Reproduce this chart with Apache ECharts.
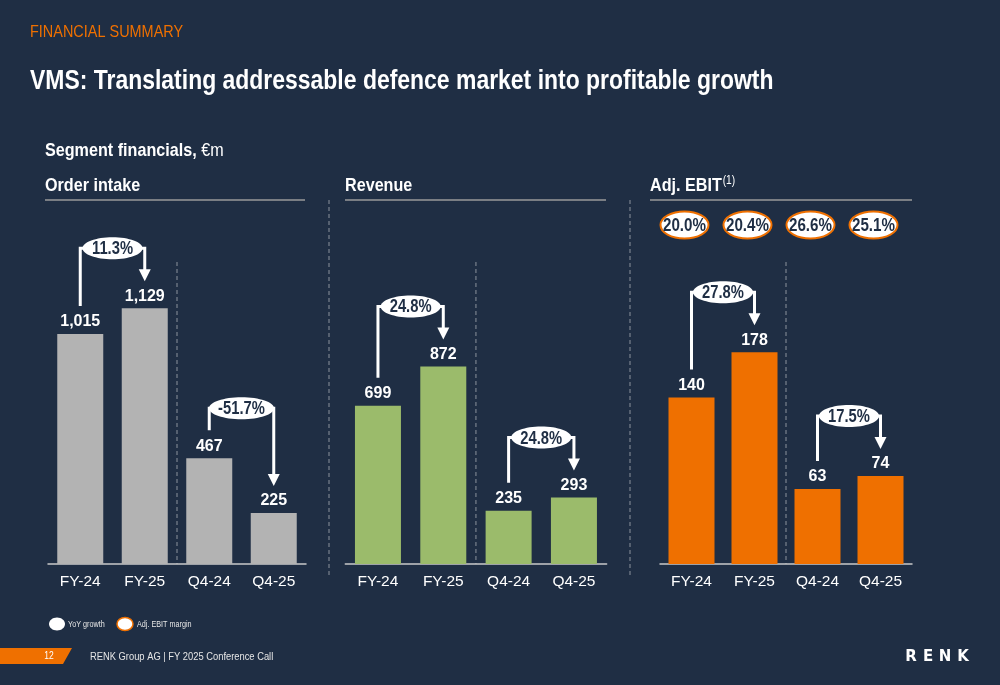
<!DOCTYPE html>
<html>
<head>
<meta charset="utf-8">
<title>VMS segment financials</title>
<script src="https://cdn.jsdelivr.net/npm/echarts@6.0.0/dist/echarts.min.js"></script>
<style>
  html, body { margin: 0; padding: 0; background: #1f2e44; }
  #main { width: 1000px; height: 685px; }
</style>
</head>
<body>
<div id="main"></div>
<script>
// data
var categories = ['FY-24', 'FY-25', 'Q4-24', 'Q4-25'];
var orderIntake = [1015, 1129, 467, 225];
var revenue = [699, 872, 235, 293];
var adjEbit = [140, 178, 63, 74];
var orderGrowth = ['11.3%', '-51.7%'];
var revenueGrowth = ['24.8%', '24.8%'];
var ebitGrowth = ['27.8%', '17.5%'];
var ebitMargin = ['20.0%', '20.4%', '26.6%', '25.1%'];
var growthPairs = [[0, 1], [2, 3]];

var NAVY = '#1f2e44';
var ORANGE = '#ef7000';
var FONT = '"Liberation Sans", Arial, sans-serif';
var NARROW = 0.85; // slide font is a condensed Arial, squeeze the text to match

var chart = echarts.init(document.getElementById('main'));

function xAxis(grid) {
  return {
    type: 'category', gridIndex: grid, data: categories,
    axisTick: { show: false },
    axisLine: { lineStyle: { color: '#c9c9c9', width: 1.5 } },
    axisLabel: { color: '#ffffff', fontSize: 15.5, fontFamily: FONT, margin: 10 }
  };
}

function yAxis(grid, max) {
  return { type: 'value', gridIndex: grid, min: 0, max: max, show: false };
}

function barSeries(grid, values, color) {
  return {
    type: 'bar', xAxisIndex: grid, yAxisIndex: grid,
    data: values, barWidth: 46,
    itemStyle: { color: color },
    label: {
      show: true, position: 'top', distance: 4,
      color: '#ffffff', fontWeight: 'bold', fontSize: 16, fontFamily: FONT,
      formatter: function (p) { return p.value.toLocaleString('en-US'); }
    }
  };
}

function bubbleText(text, x, y, size) {
  return { type: 'text', x: x, y: y, scaleX: 0.82,
    style: { text: text, x: 0, y: 0, align: 'center', verticalAlign: 'middle',
      fontSize: size, fontWeight: 'bold', fontFamily: FONT, fill: NAVY } };
}

// YoY bracket arrow with the growth bubble
function bracketSeries(grid, values, labels) {
  return {
    type: 'custom', xAxisIndex: grid, yAxisIndex: grid, z: 5,
    data: growthPairs.map(function (p) { return [p[0], 0, p[1], values[p[0]], values[p[1]]]; }),
    renderItem: function (params, api) {
      var a = api.coord([api.value(0), api.value(3)]);
      var b = api.coord([api.value(2), api.value(4)]);
      var top = Math.min(a[1] - 50, b[1] - 60);
      var x1 = a[0], x2 = b[0], tip = b[1] - 27;
      var label = labels[params.dataIndex];
      var rx = 2.5 * label.length + 17.5;
      var cx = (x1 + x2) / 2;
      return {
        type: 'group',
        children: [
          { type: 'polyline', shape: { points: [[x1, a[1] - 28], [x1, top], [x2, top], [x2, tip - 10]] },
            style: { stroke: '#ffffff', lineWidth: 3, fill: null } },
          { type: 'polygon', shape: { points: [[x2 - 6, tip - 12], [x2 + 6, tip - 12], [x2, tip]] },
            style: { fill: '#ffffff' } },
          { type: 'ellipse', shape: { cx: cx, cy: top, rx: rx, ry: 11 }, style: { fill: '#ffffff' } },
          bubbleText(label, cx, top + 1, 18)
        ]
      };
    }
  };
}

// margin bubbles above the EBIT bars
function marginSeries(grid) {
  return {
    type: 'custom', xAxisIndex: grid, yAxisIndex: grid, z: 5,
    data: ebitMargin.map(function (m, i) { return [i, 0]; }),
    renderItem: function (params, api) {
      var x = api.coord([api.value(0), 0])[0] - 7;
      var y = 225;
      return {
        type: 'group',
        children: [
          { type: 'ellipse', shape: { cx: x, cy: y, rx: 24, ry: 13.5 },
            style: { fill: '#ffffff', stroke: ORANGE, lineWidth: 2 } },
          bubbleText(ebitMargin[params.dataIndex], x, y + 1, 18.5)
        ]
      };
    }
  };
}

function txt(x, y, text, size, color, weight, extra) {
  var s = { text: text, x: 0, y: 0, fill: color, fontSize: size, fontWeight: weight || 'normal',
    fontFamily: FONT, verticalAlign: 'middle' };
  if (extra) for (var k in extra) s[k] = extra[k];
  return { type: 'text', x: x, y: y, scaleX: NARROW, style: s };
}

function hline(x1, x2, y, color, w) {
  return { type: 'line', shape: { x1: x1, y1: y, x2: x2, y2: y },
    style: { stroke: color, lineWidth: w } };
}
function vline(x, y1, y2) {
  return { type: 'line', shape: { x1: x, y1: y1, x2: x, y2: y2 },
    style: { stroke: '#8c929c', lineWidth: 1, lineDash: [4, 3] } };
}
function logoLetter(x, ch) {
  return { type: 'text', x: x, y: 657, style: { text: ch, align: 'center', verticalAlign: 'middle',
    fontSize: 15, fontWeight: 'bold', fontFamily: 'DejaVu Sans', fill: '#ffffff' } };
}

var option = {
  backgroundColor: NAVY,
  animation: false,
  grid: [
    { left: 48, width: 258, top: 246.8, height: 317.2 },
    { left: 345.3, width: 261.3, top: 246.8, height: 317.2 },
    { left: 660, width: 252, top: 266.5, height: 297.5 }
  ],
  xAxis: [xAxis(0), xAxis(1), xAxis(2)],
  yAxis: [yAxis(0, 1400), yAxis(1, 1400), yAxis(2, 250)],
  series: [
    barSeries(0, orderIntake, '#b3b3b3'),
    barSeries(1, revenue, '#9bbb6b'),
    barSeries(2, adjEbit, ORANGE),
    bracketSeries(0, orderIntake, orderGrowth),
    bracketSeries(1, revenue, revenueGrowth),
    bracketSeries(2, adjEbit, ebitGrowth),
    marginSeries(2)
  ],
  graphic: [
    txt(30, 32, 'FINANCIAL SUMMARY', 17, ORANGE),
    txt(30, 82, 'VMS: Translating addressable defence market into profitable growth', 27, '#ffffff', 'bold'),
    txt(45, 151, '{b|Segment financials,} {n|€m}', 19, '#ffffff', 'normal', {
      rich: { b: { fontSize: 19, fontWeight: 'bold', fill: '#ffffff', fontFamily: FONT },
              n: { fontSize: 19, fill: '#ffffff', fontFamily: FONT } } }),
    txt(45, 186, 'Order intake', 19, '#ffffff', 'bold'),
    txt(345, 186, 'Revenue', 19, '#ffffff', 'bold'),
    txt(650, 186, '{b|Adj. EBIT}{s|(1)}', 19, '#ffffff', 'normal', {
      rich: { b: { fontSize: 19, fontWeight: 'bold', fill: '#ffffff', fontFamily: FONT },
              s: { fontSize: 12, fill: '#ffffff', fontFamily: FONT, verticalAlign: 'top', padding: [0, 0, 10, 1] } } }),
    hline(45, 305, 200, '#9a9a9a', 1.5),
    hline(345, 606, 200, '#9a9a9a', 1.5),
    hline(650, 912, 200, '#9a9a9a', 1.5),
    vline(329, 200, 575),
    vline(630, 200, 575),
    // legend
    { type: 'ellipse', shape: { cx: 57, cy: 624, rx: 8, ry: 6.5 }, style: { fill: '#ffffff' } },
    txt(68, 625, 'YoY growth', 8.5, '#e6e6e6'),
    { type: 'ellipse', shape: { cx: 125, cy: 624, rx: 8, ry: 6.5 }, style: { fill: '#ffffff', stroke: ORANGE, lineWidth: 1.5 } },
    txt(137, 625, 'Adj. EBIT margin', 8.5, '#e6e6e6'),
    // footer
    { type: 'polygon', shape: { points: [[0, 648], [72, 648], [63, 664], [0, 664]] }, style: { fill: ORANGE } },
    txt(49, 656, '12', 10, '#ffffff', 'normal', { align: 'center' }),
    txt(90, 657, 'RENK Group AG | FY 2025 Conference Call', 11, '#e6e6e6'),
    logoLetter(911, 'R'),
    logoLetter(928, 'E'),
    logoLetter(945, 'N'),
    logoLetter(963, 'K')
  ]
};

chart.setOption(option);

// dashed split between full-year and quarter bars, from the axis scale
var inner = [];
[0, 1, 2].forEach(function (g) {
  var p1 = chart.convertToPixel({ xAxisIndex: g, yAxisIndex: g }, [1, 0]);
  var p2 = chart.convertToPixel({ xAxisIndex: g, yAxisIndex: g }, [2, 0]);
  inner.push(vline((p1[0] + p2[0]) / 2, 262, p1[1]));
});
chart.setOption({ graphic: option.graphic.concat(inner) }, { replaceMerge: ['graphic'] });
</script>
</body>
</html>
